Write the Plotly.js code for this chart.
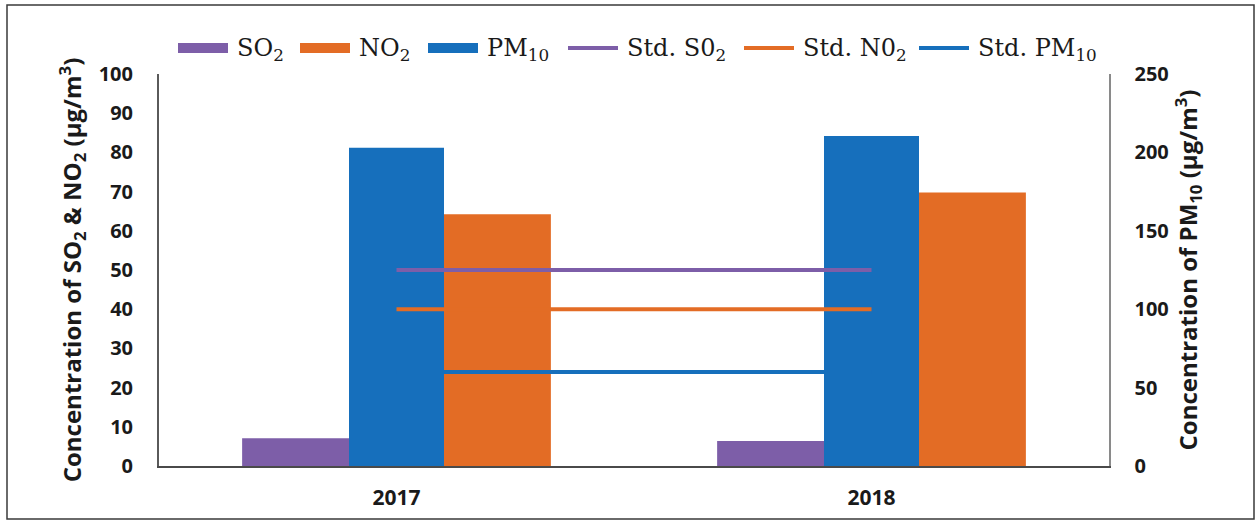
<!DOCTYPE html>
<html>
<head>
<meta charset="utf-8">
<script src="https://cdn.plot.ly/plotly-3.0.1.min.js"></script>
<style>
  html, body { margin: 0; padding: 0; background: #ffffff; }
  #chart { width: 1260px; height: 524px; }
</style>
</head>
<body>
<div id="chart"></div>
<script>
// Annual mean concentrations by year
const years = ['2017', '2018'];
const so2 = [7.1, 6.4];        // µg/m³, left axis
const no2 = [64.2, 69.8];      // µg/m³, left axis
const pm10 = [203, 210.5];     // µg/m³, right axis

// Annual standards
const stdSO2 = 50;   // left axis
const stdNO2 = 40;   // left axis
const stdPM10 = 60;  // right axis

// Series labels
const labelSO2 = 'SO<sub>2</sub>';
const labelNO2 = 'NO<sub>2</sub>';
const labelPM10 = 'PM<sub>10</sub>';
const labelStdSO2 = 'Std. S0<sub>2</sub>';
const labelStdNO2 = 'Std. N0<sub>2</sub>';
const labelStdPM10 = 'Std. PM<sub>10</sub>';

// Colours
const cPurple = '#7d5ea8';
const cOrange = '#e36c25';
const cBlue = '#166fbc';

// Page geometry (pixels)
const W = 1260, H = 524;
const plotL = 159, plotR = 1109, plotT = 74, plotB = 466;
const px2x = p => (p - plotL) / (plotR - plotL);
const px2y = p => (plotB - p) / (plotB - plotT);

const tickFont = { family: 'Open Sans, sans-serif', size: 20, weight: 700, color: '#1a1a1a' };
const catFont = { family: 'Open Sans, sans-serif', size: 21, weight: 700, color: '#1a1a1a' };
const titleFont = { family: 'Open Sans, sans-serif', size: 24, weight: 700, color: '#1a1a1a' };

const traces = [
  { type: 'bar', name: labelSO2, x: years, y: so2, yaxis: 'y',
    offset: -0.325, width: 0.225, marker: { color: cPurple }, showlegend: false },
  { type: 'bar', name: labelNO2, x: years, y: no2, yaxis: 'y',
    offset: 0.1, width: 0.225, marker: { color: cOrange }, showlegend: false },
  { type: 'bar', name: labelPM10, x: years, y: pm10, yaxis: 'y2',
    offset: -0.1, width: 0.2, marker: { color: cBlue }, showlegend: false },
  { type: 'scatter', mode: 'lines', name: labelStdPM10, x: years, y: years.map(() => stdPM10),
    yaxis: 'y2', line: { color: cBlue, width: 4 }, showlegend: false },
  { type: 'scatter', mode: 'lines', name: labelStdSO2, x: years, y: years.map(() => stdSO2),
    yaxis: 'y3', line: { color: cPurple, width: 4 }, showlegend: false },
  { type: 'scatter', mode: 'lines', name: labelStdNO2, x: years, y: years.map(() => stdNO2),
    yaxis: 'y3', line: { color: cOrange, width: 4 }, showlegend: false }
];

// Hand-built legend row across the top
const legendItems = [
  { label: labelSO2, color: cPurple, kind: 'bar' },
  { label: labelNO2, color: cOrange, kind: 'bar' },
  { label: labelPM10, color: cBlue, kind: 'bar' },
  { label: labelStdSO2, color: cPurple, kind: 'line' },
  { label: labelStdNO2, color: cOrange, kind: 'line' },
  { label: labelStdPM10, color: cBlue, kind: 'line' }
];
const legendStartPx = [178, 300, 428, 568, 744, 919];
const swatchW = 50, swatchGap = 7, legendMidY = 48;

const shapes = [];
const annotations = [];
legendItems.forEach((it, i) => {
  const x0 = legendStartPx[i];
  if (it.kind === 'bar') {
    shapes.push({ type: 'rect', xref: 'paper', yref: 'paper',
      x0: px2x(x0), x1: px2x(x0 + swatchW), y0: px2y(legendMidY + 5), y1: px2y(legendMidY - 5),
      line: { width: 0 }, fillcolor: it.color });
  } else {
    shapes.push({ type: 'line', xref: 'paper', yref: 'paper',
      x0: px2x(x0), x1: px2x(x0 + swatchW), y0: px2y(legendMidY), y1: px2y(legendMidY),
      line: { color: it.color, width: 4 } });
  }
  annotations.push({ xref: 'paper', yref: 'paper', x: px2x(x0 + swatchW + swatchGap), y: px2y(legendMidY + 1),
    xanchor: 'left', yanchor: 'middle', showarrow: false, text: it.label,
    font: { family: 'DejaVu Serif, serif', size: 24, color: '#1a1a1a' } });
});

// Outer frame
shapes.push({ type: 'rect', xref: 'paper', yref: 'paper', layer: 'below',
  x0: px2x(7), x1: px2x(1254), y0: px2y(519), y1: px2y(5),
  line: { color: '#3a3a3a', width: 1.5 }, fillcolor: 'rgba(0,0,0,0)' });

const layout = {
  width: W, height: H,
  margin: { l: plotL, r: W - plotR, t: plotT, b: H - plotB, pad: 0 },
  paper_bgcolor: '#ffffff', plot_bgcolor: '#ffffff',
  barmode: 'overlay',
  showlegend: false,
  xaxis: {
    type: 'category', range: [-0.5, 1.5], fixedrange: true,
    showline: true, linecolor: '#4a4a4a', linewidth: 2,
    showgrid: false, zeroline: false, ticks: '',
    tickfont: catFont, ticklabelstandoff: 12
  },
  yaxis: {
    range: [0, 100], dtick: 10, fixedrange: true,
    showline: true, linecolor: '#5a5a5a', linewidth: 2,
    showgrid: false, zeroline: false, ticks: '',
    tickfont: tickFont, ticklabelstandoff: 20,
    title: { text: 'Concentration of SO<sub>2</sub> &amp; NO<sub>2</sub> (µg/m<sup>3</sup>)',
             font: titleFont, standoff: 10 }
  },
  yaxis2: {
    range: [0, 250], dtick: 50, fixedrange: true,
    overlaying: 'y', side: 'right', anchor: 'x',
    showline: true, linecolor: '#8a8a8a', linewidth: 1.5,
    showgrid: false, zeroline: false, ticks: '',
    tickfont: tickFont, ticklabelstandoff: 20,
    title: { text: 'Concentration of PM<sub>10</sub> (µg/m<sup>3</sup>)',
             font: titleFont, standoff: 10 }
  },
  yaxis3: {
    range: [0, 100], overlaying: 'y', anchor: 'x', visible: false, fixedrange: true
  },
  shapes: shapes,
  annotations: annotations
};

Plotly.newPlot('chart', traces, layout, { staticPlot: true, displayModeBar: false });
</script>
</body>
</html>
